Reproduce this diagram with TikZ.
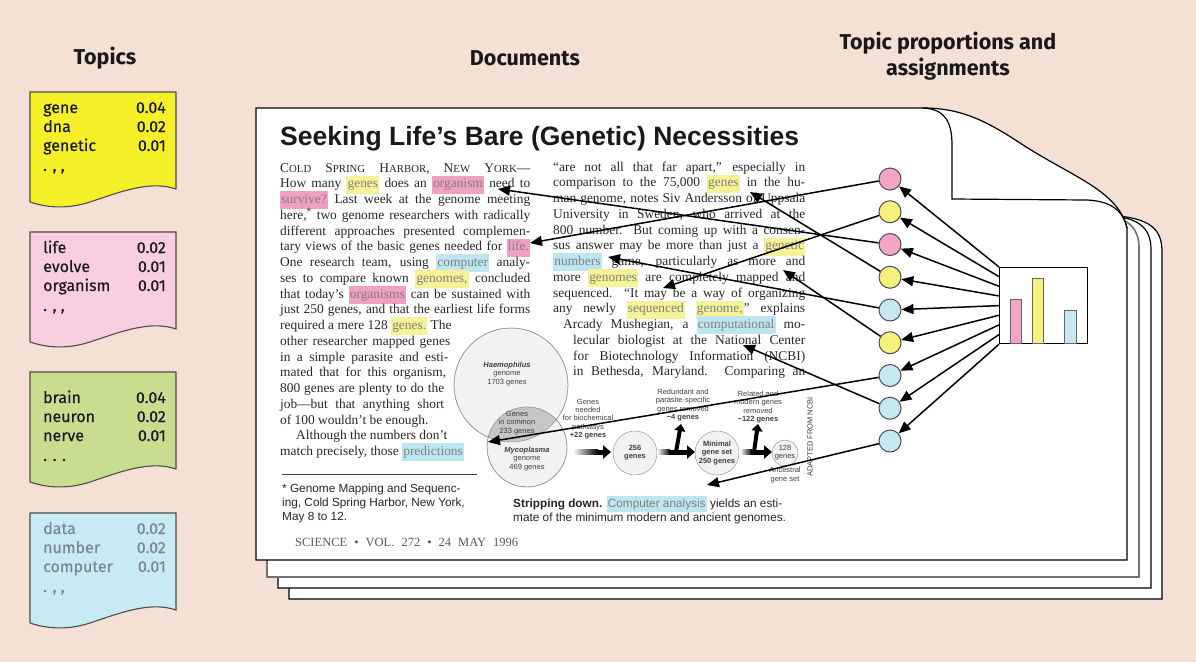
\documentclass[tikz,border=0pt]{standalone}
\usepackage{fontspec}
\setmainfont{Liberation Serif}
\newfontfamily\headfont{Fira Sans}
\newfontfamily\topicfont{Fira Sans}[FakeBold=0.35]
\newfontfamily\artsans{Liberation Sans}
\usetikzlibrary{arrows.meta,calc}

\definecolor{bgpeach}{RGB}{245,224,214}
\definecolor{topicyellow}{RGB}{245,240,40}
\definecolor{topicpink}{RGB}{249,206,224}
\definecolor{topicgreen}{RGB}{200,222,142}
\definecolor{topicblue}{RGB}{200,234,243}
\definecolor{topicink}{RGB}{25,25,35}
\definecolor{topicgray}{RGB}{120,135,145}
\definecolor{hlyellow}{RGB}{246,242,150}
\definecolor{hlpink}{RGB}{240,160,195}
\definecolor{hlblue}{RGB}{190,230,240}
\definecolor{dotpink}{RGB}{243,165,200}
\definecolor{dotyellow}{RGB}{246,240,125}
\definecolor{dotblue}{RGB}{198,232,240}
\definecolor{inkgray}{RGB}{40,40,40}

\newcommand{\hlw}[2]{{\setlength{\fboxsep}{1.2pt}\colorbox{#1}{\strut\textcolor{black!50}{#2}}}}
\newcommand{\fsc}[1]{{\fontsize{10.8}{12}\selectfont #1}}

\tikzset{
  head/.style={font=\headfont\bfseries\fontsize{21.5}{26}\selectfont, text=black!90, align=center},
  topicbox/.style={draw=black!70, line width=1.1pt},
  topicword/.style={font=\topicfont\fontsize{16}{19}\selectfont, anchor=base west, inner sep=0pt},
  topicprob/.style={font=\topicfont\fontsize{16}{19}\selectfont, anchor=base east, inner sep=0pt},
  page/.style={draw=black, line width=1.2pt, fill=white},
  bodyline/.style={anchor=base west, inner sep=0pt, text=inkgray, font=\fontsize{13.4}{15.75}\selectfont},
  sansline/.style={anchor=base west, inner sep=0pt, text=black!85, font=\artsans\fontsize{11.8}{14}\selectfont},
  figtext/.style={font=\artsans\fontsize{7.5}{8.2}\selectfont, align=center, inner sep=0pt, text=black!75},
  figcirc/.style={circle, draw=black!45, fill=gray!10, inner sep=0pt},
  fatarrow/.style={line width=5pt, -{Triangle[length=8pt,width=13pt]}},
  dot/.style={circle, draw=black!70, line width=1pt, minimum size=22pt, inner sep=0pt},
  assign/.style={draw=black, line width=1.5pt, -{Triangle[length=12pt,width=10pt]}}
}

\begin{document}
\begin{tikzpicture}[x=1pt,y=-1pt]
\fill[bgpeach] (0,0) rectangle (1196,662);
\useasboundingbox (0,0) rectangle (1196,662);

\node[head] (Htopics) at (105,58) {Topics};
\node[head] (Hdocs) at (525,58) {Documents};
\node[head] (Hprop) at (948,56) {Topic proportions and\\assignments};

\foreach \T/\off/\fc/\tc/\wa/\pa/\wb/\pb/\wc/\pc/\dd [count=\k] in {
  92/0/topicyellow/topicink/gene/0.04/dna/0.02/genetic/0.01/{. , ,},
  232/0/topicpink/topicink/life/0.02/evolve/0.01/organism/0.01/{. , ,},
  372/10/topicgreen/topicink/brain/0.04/neuron/0.02/nerve/0.01/{. . .},
  513/0/topicblue/topicgray/data/0.02/number/0.02/computer/0.01/{. , ,}}
{
  \draw[topicbox, fill=\fc] (30,\T) -- (176,\T) -- (176,\T+97) .. controls (150,\T+88) and (120,\T+100) .. (90,\T+110) .. controls (65,\T+118) and (45,\T+115) .. (30,\T+110) -- cycle;
  \node[topicword, text=\tc] (T\k-1) at (43,\T+21+\off) {\wa};
  \node[topicprob, text=\tc] (P\k-1) at (166,\T+21+\off) {\pa};
  \node[topicword, text=\tc] (T\k-2) at (43,\T+40+\off) {\wb};
  \node[topicprob, text=\tc] (P\k-2) at (166,\T+40+\off) {\pb};
  \node[topicword, text=\tc] (T\k-3) at (43,\T+59+\off) {\wc};
  \node[topicprob, text=\tc] (P\k-3) at (166,\T+59+\off) {\pc};
  \node[topicword, text=\tc] (T\k-4) at (43,\T+79+\off) {\dd};
}

\draw[page] (289,599) -- (289,215) -- (1095,215) .. controls (1150,215) and (1162,228) .. (1162,252) -- (1162,599) -- cycle;
\draw[page] (278,588) -- (278,215) -- (1095,215) .. controls (1140,215) and (1151,228) .. (1151,250) -- (1151,588) -- cycle;
\draw[page, draw=black!55, line width=1.6pt] (267,577) -- (267,215) -- (1095,215) .. controls (1128,215) and (1139,228) .. (1139,248) -- (1139,577) -- cycle;
\draw[page] (256,108) -- (923,108) .. controls (960,108) and (985,120) .. (1020,143) .. controls (1070,176) and (1118,190) .. (1127,228) -- (1127,560) -- (256,560) -- cycle;
\draw[line width=1.2pt] (923,108) .. controls (945,109) and (952,122) .. (952,145) -- (952,199) -- (1087,200) .. controls (1110,201) and (1123,210) .. (1127,228);

\node[anchor=base west, inner sep=0pt, text=black!90, font=\artsans\bfseries\fontsize{26.5}{30}\selectfont] (title) at (280,145) {Seeking Life’s Bare (Genetic) Necessities};

\node[bodyline] (L1) at (280,172) {\makebox[250pt][s]{C\fsc{OLD} S\fsc{PRING} H\fsc{ARBOR}, N\fsc{EW} Y\fsc{ORK}—}};
\node[bodyline] (L2) at (280,187.75) {\makebox[250pt][s]{How many \hlw{hlyellow}{genes} does an \hlw{hlpink}{organism} need to}};
\node[bodyline] (L3) at (280,203.5) {\makebox[250pt][s]{\hlw{hlpink}{survive?} Last week at the genome meeting}};
\node[bodyline] (L4) at (280,219.25) {\makebox[250pt][s]{here,\textsuperscript{*} two genome researchers with radically}};
\node[bodyline] (L5) at (280,235) {\makebox[250pt][s]{different approaches presented complemen-}};
\node[bodyline] (L6) at (280,250.75) {\makebox[250pt][s]{tary views of the basic genes needed for \hlw{hlpink}{life.}}};
\node[bodyline] (L7) at (280,266.5) {\makebox[250pt][s]{One research team, using \hlw{hlblue}{computer} analy-}};
\node[bodyline] (L8) at (280,282.25) {\makebox[250pt][s]{ses to compare known \hlw{hlyellow}{genomes,} concluded}};
\node[bodyline] (L9) at (280,298) {\makebox[250pt][s]{that today’s \hlw{hlpink}{organisms} can be sustained with}};
\node[bodyline] (L10) at (280,313.75) {\makebox[250pt][s]{just 250 genes, and that the earliest life forms}};
\node[bodyline] (L11) at (280,329.5) {required a mere 128 \hlw{hlyellow}{genes.} The};
\node[bodyline] (L12) at (280,345.25) {\makebox[170pt][s]{other researcher mapped genes}};
\node[bodyline] (L13) at (280,361) {\makebox[168pt][s]{in a simple parasite and esti-}};
\node[bodyline] (L14) at (280,376.75) {\makebox[166pt][s]{mated that for this organism,}};
\node[bodyline] (L15) at (280,392.5) {\makebox[164pt][s]{800 genes are plenty to do the}};
\node[bodyline] (L16) at (280,408.25) {\makebox[164pt][s]{job—but that anything short}};
\node[bodyline] (L17) at (280,424) {of 100 wouldn’t be enough.};
\node[bodyline] (L18) at (296,439.75) {Although the numbers don’t};
\node[bodyline] (L19) at (280,455.5) {match precisely, those \hlw{hlblue}{predictions}};

\node[bodyline] (R1) at (553,171) {\makebox[252pt][s]{“are not all that far apart,” especially in}};
\node[bodyline] (R2) at (553,186.75) {\makebox[252pt][s]{comparison to the 75,000 \hlw{hlyellow}{genes} in the hu-}};
\node[bodyline] (R3) at (553,202.5) {\makebox[252pt][s]{man genome, notes Siv Andersson of Uppsala}};
\node[bodyline] (R4) at (553,218.25) {\makebox[252pt][s]{University in Sweden, who arrived at the}};
\node[bodyline] (R5) at (553,234) {\makebox[252pt][s]{800 number. But coming up with a consen-}};
\node[bodyline] (R6) at (553,249.75) {\makebox[252pt][s]{sus answer may be more than just a \hlw{hlyellow}{genetic}}};
\node[bodyline] (R7) at (553,265.5) {\makebox[252pt][s]{\hlw{hlblue}{numbers} game, particularly as more and}};
\node[bodyline] (R8) at (553,281.25) {\makebox[252pt][s]{more \hlw{hlyellow}{genomes} are completely mapped and}};
\node[bodyline] (R9) at (553,297) {\makebox[252pt][s]{sequenced. “It may be a way of organizing}};
\node[bodyline] (R10) at (553,312.75) {\makebox[252pt][s]{any newly \hlw{hlyellow}{sequenced} \hlw{hlyellow}{genome,}” explains}};
\node[bodyline] (R11) at (563,328.5) {\makebox[242pt][s]{Arcady Mushegian, a \hlw{hlblue}{computational} mo-}};
\node[bodyline] (R12) at (573,344.25) {\makebox[232pt][s]{lecular biologist at the National Center}};
\node[bodyline] (R13) at (573,360) {\makebox[232pt][s]{for Biotechnology Information (NCBI)}};
\node[bodyline] (R14) at (573,375.75) {\makebox[232pt][s]{in Bethesda, Maryland. Comparing an}};

\draw[black!75, line width=1pt] (282,474) -- (477,474);
\node[sansline] (F1) at (282,492) {* Genome Mapping and Sequenc-};
\node[sansline] (F2) at (282,506) {ing, Cold Spring Harbor, New York,};
\node[sansline] (F3) at (282,520) {May 8 to 12.};
\node[bodyline, text=black!65, font=\fontsize{12.5}{14}\selectfont] (foot) at (295,546) {\makebox[223pt][s]{SCIENCE • VOL. 272 • 24 MAY 1996}};

\node[sansline] (C1) at (513,507) {\textbf{Stripping down.} \hlw{hlblue}{Computer analysis} yields an esti-};
\node[sansline] (C2) at (513,521) {mate of the minimum modern and ancient genomes.};

\node[figcirc, minimum size=114pt] (haemo) at (511,385) {};
\node[figcirc, minimum size=80pt] (myco) at (527,447) {};
\begin{scope}
  \clip (511,385) circle (57);
  \fill[gray!45] (527,447) circle (40);
\end{scope}
\draw[black!45] (511,385) circle (57);
\draw[black!45] (527,447) circle (40);
\node[figtext] (haemoT) at (507,374) {\textbf{\textit{Haemophilus}}\\genome\\1703 genes};
\node[figtext] (commonT) at (517,423) {Genes\\in common\\233 genes};
\node[figtext] (mycoT) at (527,459) {\textbf{\textit{Mycoplasma}}\\genome\\469 genes};
\node[figtext] (neededT) at (588,419) {Genes\\needed\\for biochemical\\pathways\\\textbf{+22 genes}};
\node[figcirc, minimum size=44pt] (c256) at (635,453) {};
\node[figtext] at (c256) {\textbf{256}\\\textbf{genes}};
\node[figtext] (redundT) at (683,405) {Redundant and\\parasite-specific\\genes removed\\\textbf{−4 genes}};
\node[figcirc, minimum size=44pt] (cmin) at (717,453) {};
\node[figtext] at (cmin) {\textbf{Minimal}\\\textbf{gene set}\\\textbf{250 genes}};
\node[figtext] (relatedT) at (758,407) {Related and\\modern genes\\removed\\\textbf{−122 genes}};
\node[figcirc, minimum size=26pt] (c128) at (785,453) {};
\node[figtext] at (c128) {128\\genes};
\node[figtext] (ancT) at (785,475) {Ancestral\\gene set};
\node[figtext, rotate=90] (credit) at (810,437) {ADAPTED FROM NCBI};

\shade[left color=white, right color=black] (573,449.5) rectangle (598,454.5);
\draw[fatarrow] (597,452) -- (611,452);
\shade[left color=white, right color=black] (657,449.5) rectangle (670,454.5);
\draw[fatarrow] (669,452) -- (695,452);
\draw[line width=4pt, -{Triangle[length=7pt,width=11pt]}] (676,452) -- (681,424);
\shade[left color=white, right color=black] (740,449.5) rectangle (752,454.5);
\draw[fatarrow] (751,452) -- (772,452);
\draw[line width=4pt, -{Triangle[length=7pt,width=11pt]}] (754,452) -- (758,424);

\foreach \c [count=\i] in {dotpink,dotyellow,dotpink,dotyellow,dotblue,dotyellow,dotblue,dotblue,dotblue}
  \node[dot, fill=\c] (D\i) at (890,{179+32.75*(\i-1)}) {};

\node[draw=black, line width=1.2pt, fill=white, minimum width=88pt, minimum height=76pt, anchor=north west, inner sep=0pt] (H) at (999,267) {};
\filldraw[fill=dotpink, draw=black!60] (1010,299) rectangle (1021,343);
\filldraw[fill=dotyellow, draw=black!60] (1032,278) rectangle (1043,343);
\filldraw[fill=dotblue, draw=black!60] (1064,310) rectangle (1076,343);

\foreach \i in {1,...,9}
  \draw[assign] ($(H.north west)!{(\i-1)/8}!(H.south west)$) -- (D\i);

\coordinate (Wlife) at (530,243);
\coordinate (Wgenomes) at (663,288);
\coordinate (Worganism) at (498,189);
\coordinate (Wgenes) at (750,192);
\coordinate (Wnumbers) at (608,257);
\coordinate (Wmore) at (783,270);
\coordinate (Wpredict) at (488,442);
\coordinate (Wnational) at (743,345);
\coordinate (Wanalysis) at (707,485);

\foreach \i/\w in {1/Wlife,2/Wgenomes,3/Worganism,4/Wgenes,5/Wnumbers,6/Wmore,7/Wpredict,8/Wnational,9/Wanalysis}
  \draw[assign] (D\i) -- (\w);
\end{tikzpicture}
\end{document}
